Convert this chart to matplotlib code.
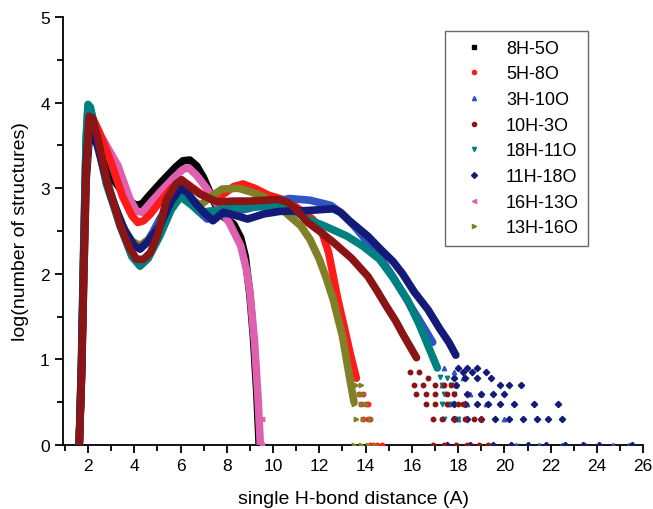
import matplotlib.pyplot as plt
from matplotlib.lines import Line2D

plt.rcParams["font.family"] = ["Liberation Sans", "DejaVu Sans"]

labels = ["8H-5O", "5H-8O", "3H-10O", "10H-3O", "18H-11O", "11H-18O", "16H-13O", "13H-16O"]
colors = ["#000000", "#ff1a1a", "#2f55c0", "#8b1515", "#008080", "#141a78", "#e060b0", "#808028"]
markers = ["s", "o", "^", "o", "v", "D", "<", ">"]

# dense part of each histogram (x in A, y = log10 count)
x_8h5o = [1.62, 1.72, 1.82, 1.92, 2.05, 2.2, 2.6, 3.1, 3.6, 3.9, 4.1, 4.35, 4.6, 5.2, 5.8, 6.1, 6.4, 6.7, 7.0, 7.35, 7.7, 8.0, 8.3, 8.6, 8.8, 9.0, 9.15, 9.3, 9.4]
y_8h5o = [0.0, 0.8, 2.0, 3.1, 3.58, 3.62, 3.4, 3.1, 2.92, 2.83, 2.8, 2.82, 2.9, 3.08, 3.25, 3.32, 3.33, 3.26, 3.12, 2.9, 2.7, 2.64, 2.58, 2.42, 2.2, 1.75, 1.27, 0.6, 0.0]

x_5h8o = [1.62, 1.72, 1.82, 1.92, 2.02, 2.15, 2.5, 2.95, 3.5, 3.9, 4.15, 4.4, 4.7, 5.1, 5.6, 6.0, 6.3, 6.8, 7.3, 7.8, 8.3, 8.7, 9.2, 9.8, 10.4, 11.0, 11.7, 12.1, 12.4, 12.8, 13.1, 13.35, 13.6]
y_5h8o = [0.0, 0.9, 2.2, 3.4, 3.88, 3.85, 3.65, 3.34, 2.9, 2.68, 2.6, 2.62, 2.7, 2.84, 3.0, 3.08, 3.05, 2.95, 2.87, 2.92, 3.02, 3.05, 3.0, 2.92, 2.87, 2.78, 2.64, 2.5, 2.25, 1.7, 1.35, 1.05, 0.78]

x_3h10o = [1.62, 1.72, 1.82, 1.92, 2.02, 2.15, 2.4, 2.8, 3.4, 3.9, 4.25, 4.6, 5.1, 5.6, 5.95, 6.3, 6.7, 7.15, 7.6, 8.2, 8.9, 9.8, 10.7, 11.6, 12.5, 13.0, 13.5, 14.0, 14.6, 15.1, 15.6, 16.0, 16.5, 16.9]
y_3h10o = [0.0, 0.9, 2.3, 3.5, 3.93, 3.88, 3.55, 3.1, 2.6, 2.35, 2.29, 2.38, 2.64, 2.85, 2.95, 2.9, 2.75, 2.64, 2.68, 2.72, 2.76, 2.82, 2.88, 2.86, 2.8, 2.7, 2.56, 2.4, 2.2, 2.0, 1.78, 1.6, 1.38, 1.2]

x_10h3o = [1.62, 1.72, 1.82, 1.92, 2.05, 2.2, 2.45, 2.8, 3.4, 3.8, 4.1, 4.4, 4.7, 5.0, 5.4, 5.8, 6.05, 6.4, 6.85, 7.6, 8.3, 9.0, 9.6, 10.2, 10.6, 10.9, 11.5, 12.0, 12.6, 13.4, 14.1, 14.5, 14.9, 15.3, 15.6, 16.2]
y_10h3o = [0.0, 0.8, 2.1, 3.2, 3.84, 3.82, 3.55, 3.1, 2.56, 2.3, 2.17, 2.17, 2.25, 2.45, 2.87, 3.05, 3.1, 3.02, 2.93, 2.84, 2.85, 2.85, 2.86, 2.87, 2.84, 2.78, 2.6, 2.5, 2.37, 2.18, 1.97, 1.8, 1.62, 1.45, 1.3, 1.02]

x_18h11o = [1.62, 1.72, 1.82, 1.92, 2.0, 2.1, 2.4, 2.8, 3.4, 3.9, 4.25, 4.6, 5.1, 5.6, 6.0, 6.4, 6.85, 7.5, 8.0, 9.0, 10.2, 11.0, 11.5, 12.3, 13.2, 13.9, 14.6, 15.2, 15.8, 16.3, 16.7, 17.1]
y_18h11o = [0.0, 1.0, 2.4, 3.6, 3.98, 3.95, 3.55, 3.05, 2.55, 2.2, 2.09, 2.18, 2.44, 2.75, 2.9, 2.82, 2.72, 2.74, 2.76, 2.78, 2.79, 2.72, 2.64, 2.55, 2.44, 2.32, 2.17, 1.95, 1.7, 1.42, 1.16, 0.9]

x_11h18o = [1.62, 1.72, 1.82, 1.92, 2.05, 2.2, 2.5, 3.0, 3.6, 4.0, 4.25, 4.6, 5.1, 5.6, 6.0, 6.3, 6.6, 7.0, 7.4, 7.85, 8.4, 8.9, 9.6, 10.3, 11.5, 12.6, 12.9, 13.3, 14.1, 14.6, 15.2, 15.6, 16.1, 16.7, 17.2, 17.6, 17.9]
y_11h18o = [0.0, 0.9, 2.2, 3.3, 3.75, 3.72, 3.4, 2.9, 2.5, 2.33, 2.29, 2.38, 2.56, 2.85, 3.0, 2.95, 2.84, 2.72, 2.62, 2.72, 2.68, 2.64, 2.7, 2.73, 2.74, 2.76, 2.72, 2.62, 2.44, 2.3, 2.14, 2.0, 1.79, 1.58, 1.36, 1.2, 1.05]

x_16h13o = [1.62, 1.72, 1.82, 1.92, 2.05, 2.2, 2.65, 3.3, 3.8, 4.1, 4.35, 4.6, 5.1, 5.7, 6.1, 6.35, 6.7, 7.15, 7.6, 8.1, 8.6, 8.85, 9.0, 9.2, 9.35, 9.45]
y_16h13o = [0.0, 0.8, 2.0, 3.2, 3.72, 3.74, 3.57, 3.26, 2.88, 2.73, 2.72, 2.8, 2.95, 3.12, 3.22, 3.24, 3.15, 2.99, 2.8, 2.6, 2.33, 2.05, 1.79, 1.2, 0.55, 0.0]

x_13h16o = [1.62, 1.72, 1.82, 1.92, 2.0, 2.1, 2.4, 2.8, 3.4, 3.9, 4.25, 4.6, 5.1, 5.6, 6.1, 6.45, 6.85, 7.3, 7.8, 8.5, 9.0, 9.6, 10.4, 11.2, 11.6, 12.0, 12.3, 12.6, 13.0, 13.3, 13.5]
y_13h16o = [0.0, 1.0, 2.3, 3.5, 3.95, 3.92, 3.55, 3.05, 2.6, 2.38, 2.33, 2.4, 2.6, 2.8, 2.92, 2.88, 2.8, 2.9, 2.99, 3.0, 2.96, 2.9, 2.75, 2.56, 2.4, 2.17, 1.95, 1.7, 1.27, 0.8, 0.5]

# sparse low-count tails (log10 of small counts)
tx_8h5o = [9.45, 9.5]
ty_8h5o = [0.0, 0.0]
tx_5h8o = [13.7, 13.9, 14.1, 13.8, 14.0, 14.2, 13.9, 14.1, 14.3, 14.5, 14.7, 14.2]
ty_5h8o = [0.6, 0.6, 0.48, 0.48, 0.48, 0.3, 0.3, 0.3, 0.0, 0.0, 0.0, 0.0]
tx_3h10o = [17.0, 17.4, 17.8, 18.2, 17.3, 17.9, 18.5, 19.0, 17.6, 18.4, 19.2, 18.0, 19.0, 20.0, 19.5, 20.5, 21.5, 22.5, 23.5, 24.7, 25.4]
ty_3h10o = [1.0, 0.9, 0.85, 0.78, 0.7, 0.7, 0.6, 0.6, 0.48, 0.48, 0.48, 0.3, 0.3, 0.3, 0.0, 0.0, 0.0, 0.0, 0.0, 0.0, 0.0]
tx_10h3o = [15.9, 16.3, 16.7, 16.1, 16.5, 17.0, 17.4, 17.7, 16.2, 16.6, 17.0, 17.5, 17.8, 16.6, 17.0, 17.5, 18.0, 18.2, 16.9, 17.3, 17.8, 18.3, 18.7, 19.0, 16.9, 17.4, 17.9, 18.4, 18.9, 19.3]
ty_10h3o = [0.85, 0.85, 0.78, 0.7, 0.7, 0.7, 0.7, 0.7, 0.6, 0.6, 0.6, 0.6, 0.6, 0.48, 0.48, 0.48, 0.48, 0.48, 0.3, 0.3, 0.3, 0.3, 0.3, 0.3, 0.0, 0.0, 0.0, 0.0, 0.0, 0.0]
tx_18h11o = [17.2, 17.5, 17.3, 17.7, 17.4, 17.8, 17.3, 17.7, 17.4, 17.8, 18.0]
ty_18h11o = [0.8, 0.78, 0.7, 0.7, 0.6, 0.6, 0.48, 0.48, 0.3, 0.3, 0.3]
tx_11h18o = [18.0, 18.4, 18.8, 18.2, 18.6, 19.2, 17.8, 18.3, 18.8, 19.4, 19.8, 20.2, 20.7, 17.9, 18.4, 19.0, 19.5, 20.0, 17.8, 18.3, 18.8, 19.3, 19.8, 20.4, 21.3, 22.3, 17.8, 18.4, 19.0, 19.6, 20.2, 20.8, 21.4, 21.9, 22.5, 17.5, 18.5, 19.5, 20.3, 21.0, 21.8, 22.6, 23.4, 24.1, 25.5]
ty_11h18o = [0.9, 0.9, 0.9, 0.85, 0.85, 0.85, 0.78, 0.78, 0.78, 0.78, 0.7, 0.7, 0.7, 0.7, 0.6, 0.6, 0.6, 0.6, 0.48, 0.48, 0.48, 0.48, 0.48, 0.48, 0.48, 0.48, 0.3, 0.3, 0.3, 0.3, 0.3, 0.3, 0.3, 0.3, 0.3, 0.0, 0.0, 0.0, 0.0, 0.0, 0.0, 0.0, 0.0, 0.0, 0.0]
tx_16h13o = [9.45, 9.5, 9.5]
ty_16h13o = [0.3, 0.0, 0.3]
tx_13h16o = [13.4, 13.6, 13.8, 13.4, 13.7, 13.9, 13.5, 13.8, 14.0, 13.6, 13.9, 14.2, 13.5, 13.8, 14.1, 14.4]
ty_13h16o = [0.78, 0.7, 0.7, 0.6, 0.6, 0.6, 0.48, 0.48, 0.48, 0.3, 0.3, 0.3, 0.0, 0.0, 0.0, 0.0]

curves = [
    (x_8h5o, y_8h5o, tx_8h5o, ty_8h5o),
    (x_5h8o, y_5h8o, tx_5h8o, ty_5h8o),
    (x_3h10o, y_3h10o, tx_3h10o, ty_3h10o),
    (x_10h3o, y_10h3o, tx_10h3o, ty_10h3o),
    (x_18h11o, y_18h11o, tx_18h11o, ty_18h11o),
    (x_11h18o, y_11h18o, tx_11h18o, ty_11h18o),
    (x_16h13o, y_16h13o, tx_16h13o, ty_16h13o),
    (x_13h16o, y_13h16o, tx_13h16o, ty_13h16o),
]
# drawing order: which series ends up on top
order = [0, 6, 1, 7, 2, 4, 5, 3]

fig = plt.figure(figsize=(6.53, 5.10), dpi=100)
ax = fig.add_axes([0.0965, 0.1255, 0.8885, 0.839])

for z, i in enumerate(order):
    cx, cy, tx, ty = curves[i]
    ax.plot(cx, cy, color=colors[i], lw=5.5, solid_joinstyle="round",
            solid_capstyle="round", zorder=2 + z)
    ax.plot(tx, ty, ls="none", marker=markers[i], ms=3.2, color=colors[i],
            mec=colors[i], zorder=2 + z)

ax.set_xlim(0.92, 26)
ax.set_ylim(0, 5)
ax.set_xticks(range(2, 27, 2))
ax.set_xticks(range(1, 27, 2), minor=True)
ax.set_yticks(range(0, 6))
ax.set_yticks([0.5, 1.5, 2.5, 3.5, 4.5], minor=True)
ax.spines["top"].set_visible(False)
ax.spines["right"].set_visible(False)
for s in ["left", "bottom"]:
    ax.spines[s].set_linewidth(1.3)
ax.tick_params(which="major", direction="out", length=6, width=1.3, labelsize=12.5)
ax.tick_params(which="minor", direction="out", length=4, width=1.3)
ax.set_xlabel("single H-bond distance (A)", fontsize=14, labelpad=12)
ax.set_ylabel("log(number of structures)", fontsize=14, labelpad=8)

handles = [Line2D([], [], ls="none", marker=markers[i], ms=3, color=colors[i])
           for i in range(len(labels))]
leg = ax.legend(handles, labels, loc="upper right", bbox_to_anchor=(0.905, 0.968),
                fontsize=13, frameon=True, fancybox=False, handletextpad=0.7,
                labelspacing=0.48, borderpad=0.5, handlelength=2.2, borderaxespad=0)
leg.get_frame().set_edgecolor("#444444")
leg.get_frame().set_linewidth(1.0)

fig.savefig("out.png", dpi=100)
